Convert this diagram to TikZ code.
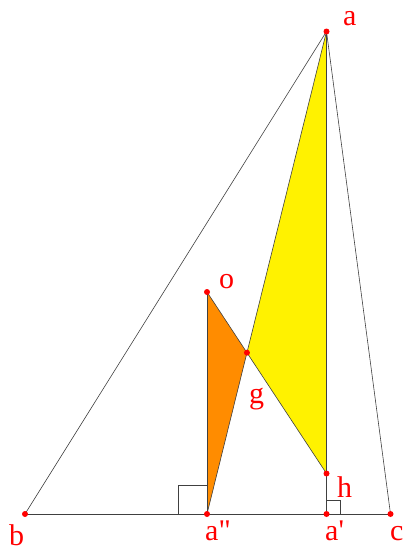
\documentclass[tikz,border=0pt]{standalone}
\usepackage{fontspec}
\setmainfont{Liberation Serif}
\newfontfamily\lblfont{Liberation Serif}
\definecolor{myorange}{RGB}{255,140,0}
\begin{document}
\begin{tikzpicture}[x=1pt,y=-1pt,
  seg/.style={draw=black!75,line width=0.8pt},
  dot/.style={circle,fill=red,inner sep=0pt,minimum size=6pt},
  lbl/.style={text=red,font=\lblfont\fontsize{30}{32}\selectfont,anchor=base west,inner sep=0pt}]
\useasboundingbox (0,0) rectangle (403,549);
\coordinate (a) at (326.5,31.5);
\coordinate (b) at (25,514);
\coordinate (c) at (390.5,514);
\coordinate (app) at (207,514);
\coordinate (ap) at (326.5,514);
\coordinate (o) at (207,292);
\coordinate (h) at (326.5,473.5);
\coordinate (g) at (intersection cs:first line={(o)--(h)},second line={(app)--(a)});
% fills
\fill[yellow] (a) -- (g) -- (h) -- cycle;
\fill[myorange] (o) -- (app) -- (g) -- cycle;
% right angle marks
\draw[seg] (app) -- ++(-29,0) coordinate (r1) -- ++(0,-29) coordinate (r2) -- ++(29,0) coordinate (r3);
\draw[seg,line width=0.6pt] (ap) -- ++(14,0) coordinate (s1) -- ++(0,-14) coordinate (s2) -- ++(-14,0) coordinate (s3);
% lines
\draw[seg] (b) -- (c);
\draw[seg,line width=0.6pt] (a) -- (b);
\draw[seg,line width=0.6pt] (a) -- (c);
\draw[seg] (a) -- (ap);
\draw[seg] (o) -- (app);
\draw[seg,line width=0.6pt] (o) -- (h);
\draw[seg,line width=0.6pt] (app) -- (a);
% dots
\foreach \p in {a,b,c,app,ap,o,h,g} \node[dot] (d\p) at (\p) {};
% labels
\node[lbl] (la) at (343,25) {a};
\node[lbl] (lb) at (9,545) {b};
\node[lbl] (lc) at (390,540) {c};
\node[lbl] (lapp) at (205,540) {a"};
\node[lbl] (lap) at (325,540) {a'};
\node[lbl] (lo) at (219,288) {o};
\node[lbl] (lg) at (249,403) {g};
\node[lbl] (lh) at (337,497) {h};
\end{tikzpicture}
\end{document}
